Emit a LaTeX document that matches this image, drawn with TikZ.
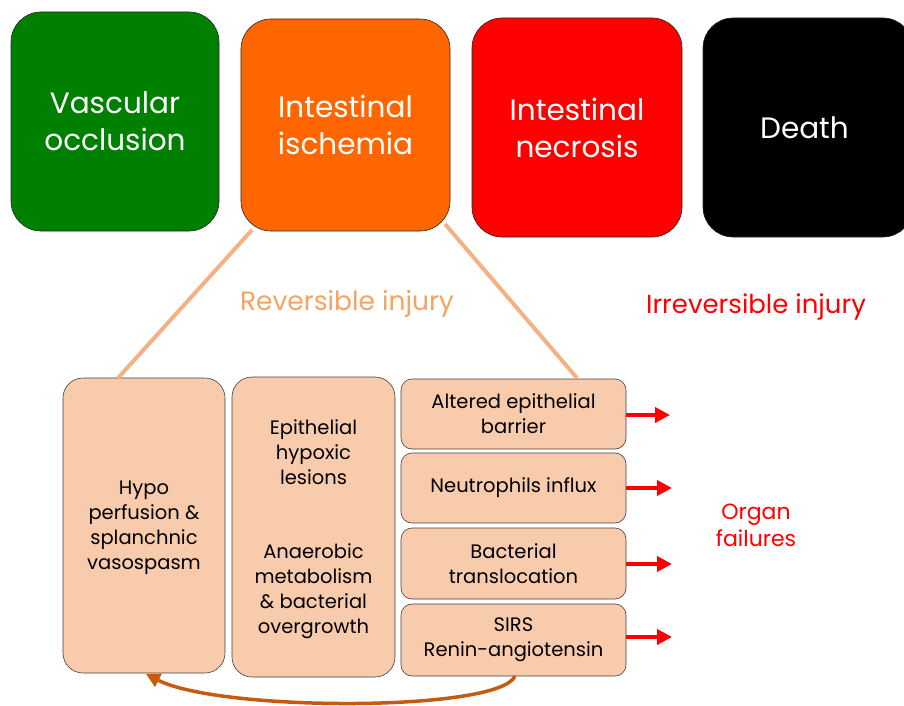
\documentclass[tikz,border=0pt]{standalone}
\usepackage{fontspec}
\setmainfont{Poppins}
\usetikzlibrary{arrows.meta}
\definecolor{cgreen}{HTML}{008000}
\definecolor{corange}{HTML}{FF6600}
\definecolor{cred}{HTML}{FF0000}
\definecolor{cpeach}{HTML}{F8CBAD}
\definecolor{cline}{HTML}{F4B183}
\definecolor{crev}{HTML}{F4A460}
\definecolor{cbrown}{HTML}{C55A11}
\begin{document}
\begin{tikzpicture}[x=1pt,y=-1pt,
  topbox/.style={draw=black!85, line width=0.6pt, rounded corners=30pt, text=white, align=center, inner sep=0pt,
    font=\fontsize{29.5}{37}\selectfont},
  bigbox/.style={draw=black!75, line width=0.6pt, fill=cpeach, rounded corners=20pt, inner sep=0pt},
  smallbox/.style={draw=black!75, line width=0.6pt, fill=cpeach, rounded corners=11pt, inner sep=0pt, align=center,
    minimum width=225pt, font=\fontsize{19.5}{25}\selectfont},
  btext/.style={align=center, font=\fontsize{19.5}{25}\selectfont, inner sep=0pt},
  lbl/.style={align=center, inner sep=0pt},
  redarrow/.style={draw=cred, line width=4pt, -{Triangle[length=15pt,width=15pt]}},
  linkline/.style={draw=cline, line width=4pt}]
\useasboundingbox (0,0) rectangle (904,706);
% top boxes
\node[topbox, fill=cgreen, minimum width=208pt, minimum height=219pt] (occl) at (115,121.5) {Vascular\\occlusion};
\node[topbox, fill=corange, minimum width=209pt, minimum height=212pt] (isch) at (345.5,125) {Intestinal\\ischemia};
\node[topbox, fill=cred, minimum width=210pt, minimum height=219pt] (necr) at (577,127.5) {Intestinal\\necrosis};
\node[topbox, fill=black, minimum width=210pt, minimum height=219pt, text width=200pt] (death) at (808,127.5) {\hspace*{-7pt}Death};
% labels
\node[lbl, text=crev, font=\fontsize{26.5}{30}\selectfont] (rev) at (347,304) {Reversible injury};
\node[lbl, text=cred, font=\fontsize{26}{30}\selectfont] (irr) at (756,307) {Irreversible injury};
\node[lbl, text=cred, font=\fontsize{22}{27}\selectfont] (organ) at (756,525) {Organ\\failures};
% bottom boxes
\node[bigbox, minimum width=162pt, minimum height=295pt] (b1) at (144,525.5) {};
\node[btext] (t1) at (144,527.5) {Hypo\\perfusion \&\\splanchnic\\vasospasm};
\node[bigbox, minimum width=163pt, minimum height=300pt] (b2) at (313.5,527) {};
\node[btext] (t2a) at (313.5,452) {Epithelial\\hypoxic\\lesions};
\node[btext] (t2b) at (313.5,591) {Anaerobic\\metabolism\\\& bacterial\\overgrowth};
\node[smallbox, minimum height=70pt] (sa) at (513.5,414) {Altered epithelial\\barrier};
\node[smallbox, minimum height=70pt] (sb) at (513.5,488) {Neutrophils influx};
\node[smallbox, minimum height=71pt] (sc) at (513.5,563.5) {Bacterial\\translocation};
\node[smallbox, minimum height=72pt] (sd) at (513.5,640) {SIRS\\Renin-angiotensin};
% link lines
\coordinate (l1s) at (252,230);
\coordinate (l1e) at (118,378);
\coordinate (l2s) at (445,224);
\coordinate (l2e) at (577,378);
\draw[linkline] (l1s) -- (l1e);
\draw[linkline] (l2s) -- (l2e);
% red arrows
\coordinate (ea) at (670,415);
\coordinate (eb) at (672,488);
\coordinate (ec) at (672,564);
\coordinate (ed) at (672,637);
\draw[redarrow] (sa.east |- ea) -- (ea);
\draw[redarrow] (sb.east |- eb) -- (eb);
\draw[redarrow] (sc.east |- ec) -- (ec);
\draw[redarrow] (sd.east |- ed) -- (ed);
% curved arrow
\coordinate (cs) at (515,676);
\coordinate (ce) at (146,674);
\draw[cbrown, line width=3.5pt, -{Triangle[length=14pt,width=14pt]}] (cs) .. controls (500,712) and (220,712) .. (ce);
\end{tikzpicture}
\end{document}
